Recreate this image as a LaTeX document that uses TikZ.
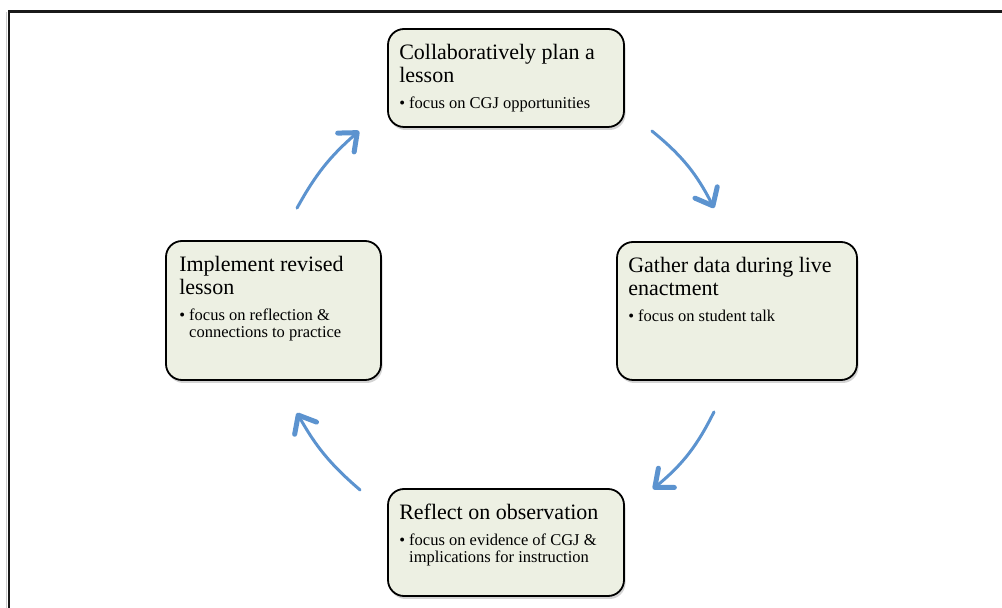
\documentclass[tikz,border=0pt]{standalone}
\usepackage{fontspec}
\setmainfont{Liberation Serif}
\usetikzlibrary{arrows.meta,shadows}
\definecolor{stagefill}{RGB}{237,240,227}
\definecolor{loopblue}{RGB}{92,147,207}
\newcommand{\stagetitle}{\fontsize{22}{23}\selectfont\spaceskip=0pt\xspaceskip=0pt}
\newcommand{\stagepoint}[1]{\par\vskip 9pt
  {\fontsize{16.5}{17}\selectfont\spaceskip=0pt\xspaceskip=0pt
   \setbox0\hbox{\textbullet\ }%
   \hangindent=\wd0 \hangafter=1 \noindent\box0 #1\par}}
\begin{document}
\begin{tikzpicture}[x=1pt, y=1pt,
    stage/.style={draw=black, line width=1.8pt, fill=stagefill, rounded corners=16pt, inner sep=0pt,
        drop shadow={shadow xshift=1.5pt, shadow yshift=-3pt, opacity=0.35}},
    stagetext/.style={anchor=north west, inner sep=0pt, text width=225pt, align=left,
        execute at begin node=\setlength{\parindent}{0pt}},
    loopflow/.style={draw=loopblue, line width=3pt, line cap=round,
        -{Straight Barb[length=15pt, width=25pt, round, line width=5pt]}}]
    \useasboundingbox (0,0) rectangle (1002,608);
    % frame
    \draw[line width=1.2pt, black!20] (6.8,0) -- (6.8,595.5);
    \draw[line width=2.4pt, black!90] (9,0) -- (9,596.5) -- (1002,596.5);
    % the four stages
    \node[stage, minimum width=236pt, minimum height=98pt] (plan) at (506,530) {};
    \node[stage, minimum width=240pt, minimum height=138pt] (gather) at (737,297) {};
    \node[stage, minimum width=236pt, minimum height=107pt] (reflect) at (506,65.5) {};
    \node[stage, minimum width=215pt, minimum height=139pt] (impl) at (273.5,297.5) {};
    \node[stagetext] (plan-text) at ([shift={(12pt,-16pt)}]plan.north west)
        {\stagetitle Collaboratively plan a\\lesson\stagepoint{focus on CGJ opportunities}};
    \node[stagetext] (gather-text) at ([shift={(12pt,-16pt)}]gather.north west)
        {\stagetitle Gather data during live\\enactment\stagepoint{focus on student talk}};
    \node[stagetext] (reflect-text) at ([shift={(12pt,-16pt)}]reflect.north west)
        {\stagetitle Reflect on observation\stagepoint{focus on evidence of CGJ \&\newline implications for instruction}};
    \node[stagetext] (impl-text) at ([shift={(14pt,-16pt)}]impl.north west)
        {\stagetitle Implement revised\\lesson\stagepoint{focus on reflection \&\newline connections to practice}};
    % arrows round the cycle
    \draw[loopflow] ([shift={(23.5pt,32pt)}]impl.north) to[bend left=10] ([shift={(-28pt,-53pt)}]plan.west);
    \draw[loopflow] ([shift={(27pt,-53pt)}]plan.east) to[bend left=12] ([shift={(-23pt,33pt)}]gather.north);
    \draw[loopflow] ([shift={(-23pt,-31pt)}]gather.south) to[bend left=12] ([shift={(28pt,53.5pt)}]reflect.east);
    \draw[loopflow] ([shift={(-27pt,52.5pt)}]reflect.west) to[bend left=10] ([shift={(23.5pt,-32pt)}]impl.south);
\end{tikzpicture}
\end{document}
